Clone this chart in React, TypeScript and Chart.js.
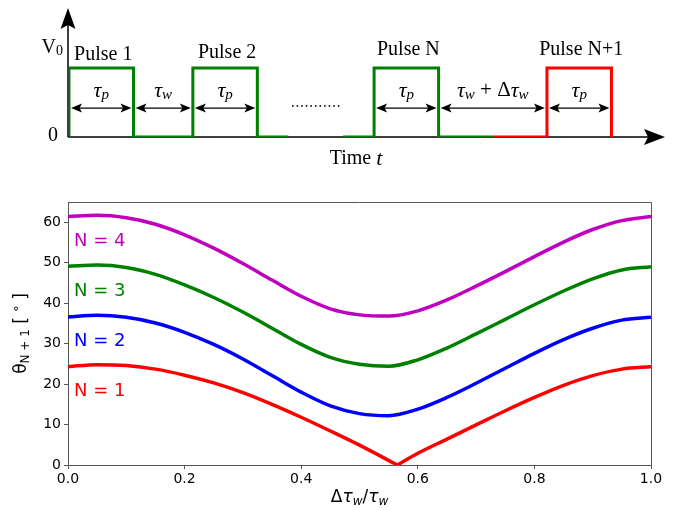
import React, { useEffect, useRef } from "react";
import { Chart, registerables } from "chart.js";
Chart.register(...registerables);

// ---------- bottom chart data ----------
const DTW = [0, 0.05, 0.1, 0.15, 0.2, 0.25, 0.3, 0.35, 0.4, 0.45, 0.5, 0.55, 0.6, 0.65, 0.7, 0.75, 0.8, 0.85, 0.9, 0.95, 1.0];
const THETA_N4 = [61.4, 61.7, 61.1, 59.5, 56.9, 53.6, 49.8, 45.7, 41.7, 38.6, 37.1, 36.8, 38.1, 40.8, 44.2, 47.8, 51.5, 55.1, 58.2, 60.4, 61.4];
const THETA_N3 = [49.1, 49.4, 48.8, 47.1, 44.5, 41.4, 37.8, 33.8, 29.8, 26.6, 24.9, 24.4, 26.0, 28.9, 32.4, 36.0, 39.6, 43.0, 46.0, 48.2, 49.0];
const THETA_N2 = [36.6, 37.0, 36.5, 35.1, 32.8, 29.8, 26.2, 22.1, 18.0, 14.6, 12.7, 12.2, 13.8, 16.7, 20.2, 23.9, 27.6, 31.0, 33.8, 35.8, 36.5];
const DTW_N1 = [0, 0.05, 0.1, 0.15, 0.2, 0.25, 0.3, 0.35, 0.4, 0.45, 0.5, 0.565, 0.6, 0.65, 0.7, 0.75, 0.8, 0.85, 0.9, 0.95, 1.0];
const THETA_N1 = [24.3, 24.8, 24.6, 23.7, 22.2, 20.3, 17.9, 15.0, 11.8, 8.4, 4.9, 0, 2.9, 6.4, 9.9, 13.4, 16.7, 19.7, 22.1, 23.7, 24.3];
const SERIES_LABELS = ["N = 1", "N = 2", "N = 3", "N = 4"];
const X_TICKS = [0, 0.2, 0.4, 0.6, 0.8, 1.0];
const Y_TICKS = [0, 10, 20, 30, 40, 50, 60];

// ---------- pulse diagram data (time in units of tau_p, voltage in units of V0) ----------
const TAU_P = 1.0;
const TAU_W = 0.92;
const DELTA_TAU_W = 0.76;
const PULSE_N_START = 4.73;
const PULSE_LABELS = ["Pulse 1", "Pulse 2", "Pulse N", "Pulse N+1"];

const COLORS = { r: "#ff0000", b: "#0000ff", g: "#008000", m: "#bf00bf" };

type Part = { t: string; font: string; dy?: number };
function drawParts(ctx: CanvasRenderingContext2D, parts: Part[], x: number, y: number, align: "left" | "center" | "right") {
  let w = 0;
  for (const p of parts) { ctx.font = p.font; w += ctx.measureText(p.t).width; }
  let cx = align === "left" ? x : align === "center" ? x - w / 2 : x - w;
  ctx.textAlign = "left";
  for (const p of parts) {
    ctx.font = p.font;
    ctx.fillText(p.t, cx, y + (p.dy || 0));
    cx += ctx.measureText(p.t).width;
  }
}

function arrowHead(ctx: CanvasRenderingContext2D, tipX: number, tipY: number, dx: number, dy: number, len: number, half: number, notch: number) {
  const bx = tipX - dx * len, by = tipY - dy * len;
  const px = -dy, py = dx;
  ctx.beginPath();
  ctx.moveTo(tipX, tipY);
  ctx.lineTo(bx + px * half, by + py * half);
  ctx.lineTo(tipX - dx * (len - notch), tipY - dy * (len - notch));
  ctx.lineTo(bx - px * half, by - py * half);
  ctx.closePath();
  ctx.fill();
}

const SERIF = "'Liberation Serif', 'DejaVu Serif', serif";
const SANS = "'DejaVu Sans', sans-serif";

function PulseDiagram() {
  const ref = useRef<HTMLCanvasElement>(null);
  useEffect(() => {
    const p1 = 0;
    const p2 = p1 + TAU_P + TAU_W;
    const pN = PULSE_N_START;
    const pN1 = pN + TAU_P + TAU_W + DELTA_TAU_W;
    const mid = pN + TAU_P + (TAU_W + DELTA_TAU_W) / 2;
    const tailEnd = p2 + TAU_P + 0.48;
    const leadStart = pN - 0.48;
    const green1 = [
      { x: p1, y: 0 }, { x: p1, y: 1 }, { x: p1 + TAU_P, y: 1 }, { x: p1 + TAU_P, y: 0 },
      { x: p2, y: 0 }, { x: p2, y: 1 }, { x: p2 + TAU_P, y: 1 }, { x: p2 + TAU_P, y: 0 }, { x: tailEnd, y: 0 },
    ];
    const green2 = [
      { x: leadStart, y: 0 }, { x: pN, y: 0 }, { x: pN, y: 1 }, { x: pN + TAU_P, y: 1 }, { x: pN + TAU_P, y: 0 }, { x: mid, y: 0 },
    ];
    const red = [
      { x: mid, y: 0 }, { x: pN1, y: 0 }, { x: pN1, y: 1 }, { x: pN1 + TAU_P, y: 1 }, { x: pN1 + TAU_P, y: 0 },
    ];
    const ds = (data: any[], color: string) => ({
      data, borderColor: color, borderWidth: 3, pointRadius: 0, tension: 0, fill: false,
      borderJoinStyle: "miter" as const, borderCapStyle: "butt" as const,
    });

    const axesPlugin = {
      id: "pulseAxes",
      beforeDatasetsDraw(chart: any) {
        const { ctx, chartArea: a, scales } = chart;
        const y0 = scales.y.getPixelForValue(0);
        const x0 = a.left - 1;
        ctx.save();
        ctx.strokeStyle = "#000";
        ctx.fillStyle = "#000";
        ctx.lineWidth = 1.5;
        ctx.beginPath();
        ctx.moveTo(x0, y0); ctx.lineTo(a.right - 8, y0);
        ctx.moveTo(x0, y0); ctx.lineTo(x0, a.top + 8);
        ctx.stroke();
        arrowHead(ctx, a.right, y0, 1, 0, 21, 8, 4);
        arrowHead(ctx, x0, a.top, 0, -1, 21, 7.5, 4);
        ctx.restore();
      },
      afterDatasetsDraw(chart: any) {
        const { ctx, chartArea: a, scales } = chart;
        const X = (t: number) => scales.x.getPixelForValue(t);
        const Y = (v: number) => scales.y.getPixelForValue(v);
        ctx.save();
        ctx.fillStyle = "#000";
        ctx.strokeStyle = "#000";
        ctx.textBaseline = "middle";
        const it = `italic 22px ${SERIF}`;
        const itS = `italic 15px ${SERIF}`;
        const up = `20px ${SERIF}`;
        const tp: Part[] = [{ t: "τ", font: it }, { t: "p", font: itS, dy: 4 }];
        const tw: Part[] = [{ t: "τ", font: it }, { t: "w", font: itS, dy: 4 }];
        const twd: Part[] = [
          { t: "τ", font: it }, { t: "w", font: itS, dy: 4 }, { t: " + Δ", font: `21px ${SERIF}` },
          { t: "τ", font: it }, { t: "w", font: itS, dy: 4 },
        ];
        const spans: [number, number, Part[]][] = [
          [p1, p1 + TAU_P, tp], [p1 + TAU_P, p2, tw], [p2, p2 + TAU_P, tp],
          [pN, pN + TAU_P, tp], [pN + TAU_P, pN1, twd], [pN1, pN1 + TAU_P, tp],
        ];
        const ya = Y(0.42);
        for (const [s, e, label] of spans) {
          const xs = X(s) + 2, xe = X(e) - 2;
          ctx.lineWidth = 1.2;
          ctx.beginPath();
          ctx.moveTo(xs + 6, ya); ctx.lineTo(xe - 6, ya);
          ctx.stroke();
          arrowHead(ctx, xs, ya, -1, 0, 11, 4.5, 2.5);
          arrowHead(ctx, xe, ya, 1, 0, 11, 4.5, 2.5);
          drawParts(ctx, label, (X(s) + X(e)) / 2, Y(0.67), "center");
        }
        // pulse labels
        const pulseCenters = [p1 + TAU_P / 2, p2 + TAU_P / 2, pN + TAU_P / 2, pN1 + TAU_P / 2];
        const pulseLabelV = [1.19, 1.22, 1.27, 1.27];
        ctx.font = up;
        ctx.textAlign = "center";
        PULSE_LABELS.forEach((l, i) => ctx.fillText(l, X(pulseCenters[i]) + 2, Y(pulseLabelV[i])));
        // dots
        const d0 = X(tailEnd + 0.07), d1 = X(leadStart - 0.07);
        const yd = Y(0.45);
        for (let i = 0; i < 11; i++) {
          ctx.beginPath();
          ctx.arc(d0 + ((d1 - d0) * i) / 10, yd, 0.9, 0, Math.PI * 2);
          ctx.fill();
        }
        // V0 and 0
        drawParts(ctx, [{ t: "V", font: up }, { t: "0", font: `14px ${SERIF}`, dy: 4 }], a.left - 6, Y(1.3), "right");
        ctx.font = up;
        ctx.textAlign = "right";
        ctx.fillText("0", a.left - 11, Y(0) - 1);
        // Time t
        drawParts(ctx, [{ t: "Time ", font: up }, { t: "t", font: it }], X(4.45), Y(0) + 22, "center");
        ctx.restore();
      },
    };

    const chart = new Chart(ref.current!, {
      type: "line",
      data: { datasets: [ds(green1, COLORS.g), ds(green2, COLORS.g), ds(red, COLORS.r)] },
      options: {
        responsive: false,
        animation: false,
        layout: { padding: { left: 69, right: 15, top: 8, bottom: 33 } },
        plugins: { legend: { display: false }, tooltip: { enabled: false } },
        scales: {
          x: { type: "linear", display: false, min: 0, max: 9.24 },
          y: { type: "linear", display: false, min: 0, max: 1.87 },
        },
      },
      plugins: [axesPlugin],
    } as any);
    return () => chart.destroy();
  }, []);
  return <canvas ref={ref} width={680} height={170} style={{ position: "absolute", left: 0, top: 0 }} />;
}

function ThetaChart() {
  const ref = useRef<HTMLCanvasElement>(null);
  useEffect(() => {
    const pts = (xs: number[], ys: number[]) => xs.map((x, i) => ({ x, y: ys[i] }));
    const cusp = THETA_N1.indexOf(Math.min(...THETA_N1));
    const line = (data: any[], color: string) => ({
      data, borderColor: color, borderWidth: 3.5, pointRadius: 0, cubicInterpolationMode: "monotone", fill: false,
    });
    const labelColors = [COLORS.r, COLORS.b, COLORS.g, COLORS.m];
    const labelY = [18.3, 30.5, 42.8, 55.2];

    const deco = {
      id: "deco",
      afterDatasetsDraw(chart: any) {
        const { ctx, chartArea: a, scales } = chart;
        ctx.save();
        ctx.textBaseline = "middle";
        ctx.textAlign = "left";
        ctx.font = `18px ${SANS}`;
        SERIES_LABELS.forEach((l, i) => {
          ctx.fillStyle = labelColors[i];
          ctx.fillText(l, scales.x.getPixelForValue(0.0105), scales.y.getPixelForValue(labelY[i]));
        });
        // frame top/right
        ctx.strokeStyle = "#555";
        ctx.lineWidth = 1;
        ctx.beginPath();
        ctx.moveTo(Math.round(a.left), Math.round(a.top) + 0.5);
        ctx.lineTo(Math.round(a.right) + 0.5, Math.round(a.top) + 0.5);
        ctx.lineTo(Math.round(a.right) + 0.5, Math.round(a.bottom));
        ctx.stroke();
        // x title
        ctx.fillStyle = "#000";
        const it = `italic 17px ${SANS}`;
        const itS = `italic 12px ${SANS}`;
        drawParts(ctx, [
          { t: "Δ", font: `17px ${SANS}` }, { t: "τ", font: it }, { t: "w", font: itS, dy: 4 },
          { t: "/", font: `17px ${SANS}` }, { t: "τ", font: it }, { t: "w", font: itS, dy: 4 },
        ], (a.left + a.right) / 2, a.bottom + 33, "center");
        // y title
        ctx.translate(22, (a.top + a.bottom) / 2);
        ctx.rotate(-Math.PI / 2);
        drawParts(ctx, [
          { t: "θ", font: `17px ${SANS}` }, { t: "N + 1", font: `12px ${SANS}`, dy: 4 },
          { t: " [ ", font: `17px ${SANS}` }, { t: "°", font: `13px ${SANS}`, dy: -2 }, { t: " ]", font: `17px ${SANS}` },
        ], 0, 0, "center");
        ctx.restore();
      },
    };

    const tickFont = { family: "DejaVu Sans", size: 14 };
    const chart = new Chart(ref.current!, {
      type: "line",
      data: {
        datasets: [
          line(pts(DTW_N1.slice(0, cusp + 1), THETA_N1.slice(0, cusp + 1)), COLORS.r),
          line(pts(DTW_N1.slice(cusp), THETA_N1.slice(cusp)), COLORS.r),
          line(pts(DTW, THETA_N2), COLORS.b),
          line(pts(DTW, THETA_N3), COLORS.g),
          line(pts(DTW, THETA_N4), COLORS.m),
        ],
      },
      options: {
        responsive: false,
        animation: false,
        layout: { padding: { left: 0, right: 29, top: 32, bottom: 0 } },
        plugins: { legend: { display: false }, tooltip: { enabled: false } },
        scales: {
          x: {
            type: "linear", min: 0, max: 1,
            afterBuildTicks: (s: any) => { s.ticks = X_TICKS.map((v) => ({ value: v })); },
            ticks: { callback: (v: any) => Number(v).toFixed(1), font: tickFont, color: "#000", padding: 2, maxRotation: 0 },
            grid: { drawOnChartArea: false, tickLength: 4, color: "#555" },
            border: { color: "#555", width: 1 },
            afterFit: (s: any) => { s.height = 45; },
          },
          y: {
            type: "linear", min: 0, max: 65,
            afterBuildTicks: (s: any) => { s.ticks = Y_TICKS.map((v) => ({ value: v })); },
            ticks: { font: tickFont, color: "#000", padding: 3 },
            grid: { drawOnChartArea: false, tickLength: 4, color: "#555" },
            border: { color: "#555", width: 1 },
            afterFit: (s: any) => { s.width = 68; },
          },
        },
      },
      plugins: [deco],
    } as any);
    return () => chart.destroy();
  }, []);
  return <canvas ref={ref} width={680} height={340} style={{ position: "absolute", left: 0, top: 170 }} />;
}

export default function App() {
  return (
    <div style={{ position: "absolute", left: 0, top: 0, width: 680, height: 510, background: "#fff" }}>
      <PulseDiagram />
      <ThetaChart />
    </div>
  );
}
